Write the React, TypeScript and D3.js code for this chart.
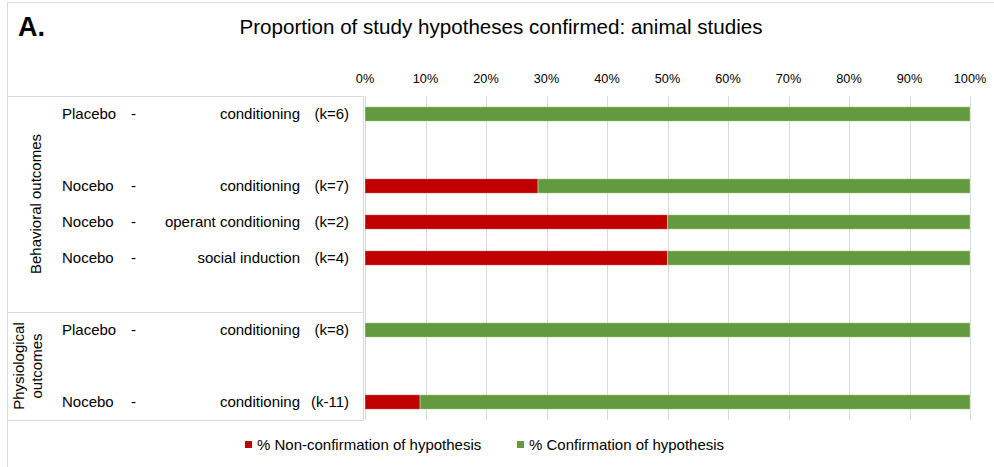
import React from "react";
import * as d3 from "d3";

// ---- data ----
const rowKeys = ["r1", "g1", "r2", "r3", "r4", "g2", "r5", "g3", "r6"];
const conditions = ["Placebo", "", "Nocebo", "Nocebo", "Nocebo", "", "Placebo", "", "Nocebo"];
const methods = ["conditioning", "", "conditioning", "operant conditioning", "social induction", "", "conditioning", "", "conditioning"];
const kLabels = ["(k=6)", "", "(k=7)", "(k=2)", "(k=4)", "", "(k=8)", "", "(k-11)"];
const nonConfirmation: (number | null)[] = [0, null, 28.6, 50, 50, null, 0, null, 9.1];
const confirmation: (number | null)[] = [100, null, 71.4, 50, 50, null, 100, null, 90.9];
const xTicks = [0, 10, 20, 30, 40, 50, 60, 70, 80, 90, 100];
const seriesNames = ["% Non-confirmation of hypothesis", "% Confirmation of hypothesis"];
const seriesColors = ["#C00000", "#639A3F"];
const title = "Proportion of study hypotheses confirmed: animal studies";
const panelLabel = "A.";

const FONT = "'Liberation Sans', Arial, Helvetica, sans-serif";

export default function App() {
  const W = 994, H = 467;
  const x = d3.scaleLinear().domain([0, 100]).range([365, 970]);
  const y = d3.scaleBand().domain(rowKeys).range([96, 420]).paddingInner(0.6).paddingOuter(0.3);
  const bw = y.bandwidth();
  const stepTop = (k: string) => (y(k) as number) - (y.step() * y.paddingInner()) / 2;

  const table = rowKeys.map((k, i) => ({ key: k, non: nonConfirmation[i] ?? 0, conf: confirmation[i] ?? 0, has: nonConfirmation[i] !== null }));
  const stack = d3.stack<any>().keys(["non", "conf"])(table);

  const boxLeft = 7, boxRight = 363;
  const groupSplit = stepTop("r5");
  const grid = "#D9D9D9";

  return (
    <svg width={W} height={H} style={{ position: "absolute", left: 0, top: 0, background: "#fff" }} fontFamily={FONT}>
      <rect x={0} y={0} width={W} height={H} fill="#fff" />
      {/* outer frame */}
      <line x1={7} x2={W} y1={2.5} y2={2.5} stroke={grid} />
      <line x1={7.5} x2={7.5} y1={2} y2={H} stroke={grid} />

      <text x={18} y={36} fontSize={27} fontWeight="bold" fill="#000">{panelLabel}</text>
      <text x={501} y={34} fontSize={20.6} textAnchor="middle" fill="#000">{title}</text>

      {/* gridlines */}
      {xTicks.map((t) => (
        <line key={"g" + t} x1={Math.round(x(t)) + 0.5} x2={Math.round(x(t)) + 0.5} y1={96} y2={420} stroke={grid} />
      ))}
      {xTicks.map((t) => (
        <text key={"t" + t} x={x(t)} y={83} fontSize={12.7} textAnchor="middle" fill="#000">{t + "%"}</text>
      ))}

      {/* label box */}
      <line x1={boxLeft} x2={boxRight} y1={96.5} y2={96.5} stroke={grid} />
      <line x1={boxLeft} x2={boxRight} y1={Math.round(groupSplit) + 0.5} y2={Math.round(groupSplit) + 0.5} stroke={grid} />
      <line x1={boxLeft} x2={boxRight} y1={420.5} y2={420.5} stroke={grid} />
      <line x1={boxRight + 0.5} x2={boxRight + 0.5} y1={96} y2={421} stroke={grid} />

      {/* group labels */}
      <text transform={`translate(41,${(96 + groupSplit) / 2}) rotate(-90)`} fontSize={15} textAnchor="middle" fill="#000">Behavioral outcomes</text>
      <text transform={`translate(24,${(groupSplit + 420) / 2}) rotate(-90)`} fontSize={15} textAnchor="middle" fill="#000">Physiological</text>
      <text transform={`translate(42,${(groupSplit + 420) / 2}) rotate(-90)`} fontSize={15} textAnchor="middle" fill="#000">outcomes</text>

      {/* row labels */}
      {rowKeys.map((k, i) => {
        if (!conditions[i]) return null;
        const cy = (y(k) as number) + bw / 2 + 5;
        return (
          <g key={"l" + k} fontSize={15} fill="#000">
            <text x={62} y={cy}>{conditions[i]}</text>
            <text x={131} y={cy}>-</text>
            <text x={300} y={cy} textAnchor="end">{methods[i]}</text>
            <text x={349} y={cy} textAnchor="end">{kLabels[i]}</text>
          </g>
        );
      })}

      {/* bars */}
      {stack.map((s, si) => (
        <g key={"s" + si} fill={seriesColors[si]}>
          {s.map((d: any) => {
            if (!d.data.has) return null;
            const w = x(d[1]) - x(d[0]);
            if (w <= 0) return null;
            return (
              <rect key={d.data.key} x={x(d[0])} y={y(d.data.key)} width={w} height={bw}
                stroke="#ffffff" strokeOpacity={0.45} strokeWidth={0.8} />
            );
          })}
        </g>
      ))}

      {/* legend */}
      <rect x={245} y={441} width={7} height={7} fill={seriesColors[0]} />
      <text x={257} y={450} fontSize={15} fill="#000">{seriesNames[0]}</text>
      <rect x={517} y={441} width={7} height={7} fill={seriesColors[1]} />
      <text x={529} y={450} fontSize={15} fill="#000">{seriesNames[1]}</text>
    </svg>
  );
}
